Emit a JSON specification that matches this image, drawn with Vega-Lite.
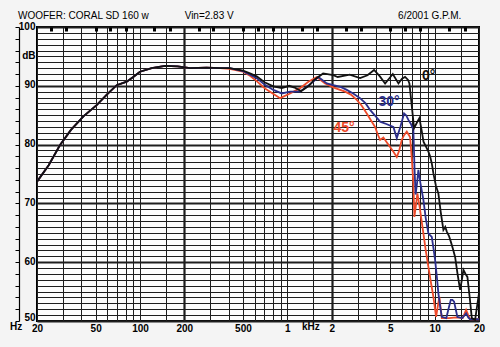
{
  "$schema": "https://vega.github.io/schema/vega-lite/v6.json",
  "width": 442,
  "height": 294,
  "autosize": "none",
  "padding": {"left": 37, "top": 27, "right": 21, "bottom": 26},
  "background": "#f4f4f4",
  "config": {"view": {"stroke": "#000000", "strokeWidth": 2, "fill": "#fdfdfd"}, "font": "Liberation Sans"},
  "datasets": {
    "curves": [
      {"a": "45°", "f": 20, "db": 73.7}, {"a": "45°", "f": 24, "db": 76.5}, {"a": "45°", "f": 28.6, "db": 79.9}, {"a": "45°", "f": 34, "db": 82.5}, {"a": "45°", "f": 41.3, "db": 84.8}, {"a": "45°", "f": 50.8, "db": 86.7}, {"a": "45°", "f": 60, "db": 88.6}, {"a": "45°", "f": 69.5, "db": 90.1}, {"a": "45°", "f": 81.3, "db": 90.7}, {"a": "45°", "f": 90, "db": 91.5}, {"a": "45°", "f": 100, "db": 92.4}, {"a": "45°", "f": 120, "db": 93.0}, {"a": "45°", "f": 148, "db": 93.4}, {"a": "45°", "f": 180, "db": 93.3}, {"a": "45°", "f": 219, "db": 93.0}, {"a": "45°", "f": 283, "db": 93.1}, {"a": "45°", "f": 350, "db": 93.0}, {"a": "45°", "f": 407, "db": 92.9}, {"a": "45°", "f": 500, "db": 92.4}, {"a": "45°", "f": 558, "db": 91.7},
      {"a": "45°", "f": 620, "db": 90.8}, {"a": "45°", "f": 700, "db": 89.6}, {"a": "45°", "f": 763, "db": 89.0}, {"a": "45°", "f": 893, "db": 87.9}, {"a": "45°", "f": 1044, "db": 88.7}, {"a": "45°", "f": 1220, "db": 89.6}, {"a": "45°", "f": 1390, "db": 90.7}, {"a": "45°", "f": 1584, "db": 91.5}, {"a": "45°", "f": 1804, "db": 90.4}, {"a": "45°", "f": 2110, "db": 89.6}, {"a": "45°", "f": 2467, "db": 89.0}, {"a": "45°", "f": 2700, "db": 88.5}, {"a": "45°", "f": 2962, "db": 87.6}, {"a": "45°", "f": 3200, "db": 86.6}, {"a": "45°", "f": 3462, "db": 85.3}, {"a": "45°", "f": 3700, "db": 84.1}, {"a": "45°", "f": 3942, "db": 83.0}, {"a": "45°", "f": 4100, "db": 81.8}, {"a": "45°", "f": 4264, "db": 80.8}, {"a": "45°", "f": 4488, "db": 81.2}, {"a": "45°", "f": 4700, "db": 80.5}, {"a": "45°", "f": 4984, "db": 79.6}, {"a": "45°", "f": 5250, "db": 78.8}, {"a": "45°", "f": 5534, "db": 77.9}, {"a": "45°", "f": 5750, "db": 79.0}, {"a": "45°", "f": 5984, "db": 80.8}, {"a": "45°", "f": 6200, "db": 81.6}, {"a": "45°", "f": 6469, "db": 82.2}, {"a": "45°", "f": 6812, "db": 81.3}, {"a": "45°", "f": 7000, "db": 77.5}, {"a": "45°", "f": 7172, "db": 73.4}, {"a": "45°", "f": 7286, "db": 67.7}, {"a": "45°", "f": 7450, "db": 69.5}, {"a": "45°", "f": 7636, "db": 71.7}, {"a": "45°", "f": 7900, "db": 69.5}, {"a": "45°", "f": 8388, "db": 64.9}, {"a": "45°", "f": 8700, "db": 62.0}, {"a": "45°", "f": 9070, "db": 59.2}, {"a": "45°", "f": 9400, "db": 56.8}, {"a": "45°", "f": 9806, "db": 54.1}, {"a": "45°", "f": 10228, "db": 50.7}, {"a": "45°", "f": 10500, "db": 52.5}, {"a": "45°", "f": 10770, "db": 54.1}, {"a": "45°", "f": 11000, "db": 52.0}, {"a": "45°", "f": 11182, "db": 50.5}, {"a": "45°", "f": 12500, "db": 50.5}, {"a": "45°", "f": 14000, "db": 50.6}, {"a": "45°", "f": 15500, "db": 50.5}, {"a": "45°", "f": 16350, "db": 51.9}, {"a": "45°", "f": 16900, "db": 51.0}, {"a": "45°", "f": 17408, "db": 50.3}, {"a": "45°", "f": 20000, "db": 50.3},

      {"a": "30°", "f": 20, "db": 73.7}, {"a": "30°", "f": 24, "db": 76.5}, {"a": "30°", "f": 28.6, "db": 79.9}, {"a": "30°", "f": 34, "db": 82.5}, {"a": "30°", "f": 41.3, "db": 84.8}, {"a": "30°", "f": 50.8, "db": 86.7}, {"a": "30°", "f": 60, "db": 88.6}, {"a": "30°", "f": 69.5, "db": 90.1}, {"a": "30°", "f": 81.3, "db": 90.7}, {"a": "30°", "f": 90, "db": 91.5}, {"a": "30°", "f": 100, "db": 92.4}, {"a": "30°", "f": 120, "db": 93.0}, {"a": "30°", "f": 148, "db": 93.4}, {"a": "30°", "f": 180, "db": 93.3}, {"a": "30°", "f": 219, "db": 93.0}, {"a": "30°", "f": 283, "db": 93.1}, {"a": "30°", "f": 350, "db": 93.0}, {"a": "30°", "f": 407, "db": 93.0}, {"a": "30°", "f": 500, "db": 92.5}, {"a": "30°", "f": 558, "db": 91.9},
      {"a": "30°", "f": 620, "db": 91.3}, {"a": "30°", "f": 700, "db": 90.2}, {"a": "30°", "f": 804, "db": 89.3}, {"a": "30°", "f": 917, "db": 88.7}, {"a": "30°", "f": 1044, "db": 89.0}, {"a": "30°", "f": 1220, "db": 89.0}, {"a": "30°", "f": 1350, "db": 89.8}, {"a": "30°", "f": 1502, "db": 90.7}, {"a": "30°", "f": 1624, "db": 91.5}, {"a": "30°", "f": 1853, "db": 90.4}, {"a": "30°", "f": 2053, "db": 90.1}, {"a": "30°", "f": 2300, "db": 89.8}, {"a": "30°", "f": 2533, "db": 89.3}, {"a": "30°", "f": 2800, "db": 88.7}, {"a": "30°", "f": 3118, "db": 87.9}, {"a": "30°", "f": 3400, "db": 87.0}, {"a": "30°", "f": 3646, "db": 85.9}, {"a": "30°", "f": 3950, "db": 84.9}, {"a": "30°", "f": 4264, "db": 83.9}, {"a": "30°", "f": 4700, "db": 83.5}, {"a": "30°", "f": 5248, "db": 83.0}, {"a": "30°", "f": 5534, "db": 81.1}, {"a": "30°", "f": 5850, "db": 83.0}, {"a": "30°", "f": 6203, "db": 85.3}, {"a": "30°", "f": 6400, "db": 85.0}, {"a": "30°", "f": 6634, "db": 84.2}, {"a": "30°", "f": 6900, "db": 83.5}, {"a": "30°", "f": 7172, "db": 82.5}, {"a": "30°", "f": 7300, "db": 76.0}, {"a": "30°", "f": 7424, "db": 71.5}, {"a": "30°", "f": 7600, "db": 73.5}, {"a": "30°", "f": 7756, "db": 75.7}, {"a": "30°", "f": 8000, "db": 73.5}, {"a": "30°", "f": 8388, "db": 70.6}, {"a": "30°", "f": 8700, "db": 67.5}, {"a": "30°", "f": 9070, "db": 64.9}, {"a": "30°", "f": 9300, "db": 64.6}, {"a": "30°", "f": 9563, "db": 64.3}, {"a": "30°", "f": 9800, "db": 62.5}, {"a": "30°", "f": 10070, "db": 60.4}, {"a": "30°", "f": 10350, "db": 57.5}, {"a": "30°", "f": 10602, "db": 54.7}, {"a": "30°", "f": 10900, "db": 52.5}, {"a": "30°", "f": 11182, "db": 50.7}, {"a": "30°", "f": 12000, "db": 50.5}, {"a": "30°", "f": 12400, "db": 52.0}, {"a": "30°", "f": 12872, "db": 53.6}, {"a": "30°", "f": 13200, "db": 53.6}, {"a": "30°", "f": 13552, "db": 53.3}, {"a": "30°", "f": 13900, "db": 52.0}, {"a": "30°", "f": 14270, "db": 50.7}, {"a": "30°", "f": 15400, "db": 50.5}, {"a": "30°", "f": 16000, "db": 51.0}, {"a": "30°", "f": 16350, "db": 51.3}, {"a": "30°", "f": 16900, "db": 50.6}, {"a": "30°", "f": 17408, "db": 50.3}, {"a": "30°", "f": 20000, "db": 50.3},

      {"a": "0°", "f": 20, "db": 73.7}, {"a": "0°", "f": 24, "db": 76.5}, {"a": "0°", "f": 28.6, "db": 79.9}, {"a": "0°", "f": 34, "db": 82.5}, {"a": "0°", "f": 41.3, "db": 84.8}, {"a": "0°", "f": 50.8, "db": 86.7}, {"a": "0°", "f": 60, "db": 88.6}, {"a": "0°", "f": 69.5, "db": 90.1}, {"a": "0°", "f": 81.3, "db": 90.7}, {"a": "0°", "f": 90, "db": 91.5}, {"a": "0°", "f": 100, "db": 92.4}, {"a": "0°", "f": 120, "db": 93.0}, {"a": "0°", "f": 148, "db": 93.4}, {"a": "0°", "f": 180, "db": 93.3}, {"a": "0°", "f": 219, "db": 93.0}, {"a": "0°", "f": 283, "db": 93.1}, {"a": "0°", "f": 350, "db": 93.0}, {"a": "0°", "f": 407, "db": 93.0}, {"a": "0°", "f": 500, "db": 92.6}, {"a": "0°", "f": 558, "db": 92.1},
      {"a": "0°", "f": 620, "db": 91.6}, {"a": "0°", "f": 700, "db": 90.6}, {"a": "0°", "f": 804, "db": 89.9}, {"a": "0°", "f": 917, "db": 89.6}, {"a": "0°", "f": 1030, "db": 90.0}, {"a": "0°", "f": 1120, "db": 89.7}, {"a": "0°", "f": 1240, "db": 89.1}, {"a": "0°", "f": 1400, "db": 90.0}, {"a": "0°", "f": 1520, "db": 91.0}, {"a": "0°", "f": 1750, "db": 92.1}, {"a": "0°", "f": 2050, "db": 91.8}, {"a": "0°", "f": 2200, "db": 91.5}, {"a": "0°", "f": 2650, "db": 91.9}, {"a": "0°", "f": 3118, "db": 91.3}, {"a": "0°", "f": 3500, "db": 91.8}, {"a": "0°", "f": 3880, "db": 92.7}, {"a": "0°", "f": 4250, "db": 91.6}, {"a": "0°", "f": 4610, "db": 90.4}, {"a": "0°", "f": 4900, "db": 91.2}, {"a": "0°", "f": 5200, "db": 92.0}, {"a": "0°", "f": 5680, "db": 90.4}, {"a": "0°", "f": 6000, "db": 91.2}, {"a": "0°", "f": 6300, "db": 91.5}, {"a": "0°", "f": 6600, "db": 91.0}, {"a": "0°", "f": 6740, "db": 90.4}, {"a": "0°", "f": 7000, "db": 86.5}, {"a": "0°", "f": 7250, "db": 82.8}, {"a": "0°", "f": 7600, "db": 83.8}, {"a": "0°", "f": 7880, "db": 84.5}, {"a": "0°", "f": 8150, "db": 82.5}, {"a": "0°", "f": 8400, "db": 80.5}, {"a": "0°", "f": 8800, "db": 79.5}, {"a": "0°", "f": 9070, "db": 78.8}, {"a": "0°", "f": 9313, "db": 78.0}, {"a": "0°", "f": 9563, "db": 76.8}, {"a": "0°", "f": 9806, "db": 75.1}, {"a": "0°", "f": 10200, "db": 73.0}, {"a": "0°", "f": 10600, "db": 71.7}, {"a": "0°", "f": 11000, "db": 68.5}, {"a": "0°", "f": 11466, "db": 65.5}, {"a": "0°", "f": 11800, "db": 66.0}, {"a": "0°", "f": 12092, "db": 65.2}, {"a": "0°", "f": 12500, "db": 64.5}, {"a": "0°", "f": 12872, "db": 63.5}, {"a": "0°", "f": 13300, "db": 62.3}, {"a": "0°", "f": 13766, "db": 60.9}, {"a": "0°", "f": 14300, "db": 58.0}, {"a": "0°", "f": 14886, "db": 55.3}, {"a": "0°", "f": 15300, "db": 57.0}, {"a": "0°", "f": 15674, "db": 58.7}, {"a": "0°", "f": 16200, "db": 58.0}, {"a": "0°", "f": 16686, "db": 57.5}, {"a": "0°", "f": 17300, "db": 54.0}, {"a": "0°", "f": 17876, "db": 50.5}, {"a": "0°", "f": 18816, "db": 50.2}, {"a": "0°", "f": 19400, "db": 52.5}, {"a": "0°", "f": 20000, "db": 54.7}
    ],
    "axisnotes": [
      {"label": "Hz", "f": 13.1, "db": 49.0},
      {"label": "kHz", "f": 1259, "db": 49.0}
    ],
    "titles": [
      {"label": "WOOFER: CORAL SD 160 w", "f": 14.86, "db": 101.87},
      {"label": "Vin=2.83 V", "f": 201, "db": 101.87},
      {"label": "6/2001  G.P.M.", "f": 5650, "db": 101.87}
    ],
    "curvelabels": [
      {"a": "0°", "f": 9100, "db": 91.7},
      {"a": "30°", "f": 4906, "db": 87.2},
      {"a": "45°", "f": 2428, "db": 82.9}
    ]
  },
  "resolve": {"axis": {"x": "independent", "y": "independent"}},
  "layer": [
    {
      "data": {"name": "curves"},
      "mark": {"type": "line", "strokeWidth": 1.8, "clip": true},
      "encoding": {
        "x": {
          "field": "f", "type": "quantitative",
          "scale": {"type": "log", "domain": [20, 20000], "nice": false},
          "axis": {
            "orient": "bottom",
            "values": [20, 30, 40, 50, 60, 70, 80, 90, 100, 150, 200, 300, 400, 500, 600, 700, 800, 900, 1000, 1500, 2000, 3000, 4000, 5000, 6000, 7000, 8000, 9000, 10000, 15000, 20000],
            "labelExpr": "indexof([20,50,100,200,500], datum.value) >= 0 ? datum.value + '' : (indexof([1000,2000,5000,10000,20000], datum.value) >= 0 ? (datum.value/1000) + '' : '')",
            "labelFlush": false, "labelOverlap": false, "labelPadding": 2,
            "labelFontSize": 10, "labelFontWeight": "bold", "labelColor": "#000000", "labelFont": "Liberation Sans",
            "ticks": false, "domain": false, "title": null,
            "grid": true, "gridColor": "#1e1e1e",
            "gridWidth": {"condition": {"test": "datum.value == 200 || datum.value == 2000", "value": 2.2}, "value": 1}
          }
        },
        "y": {
          "field": "db", "type": "quantitative",
          "scale": {"domain": [50, 100], "nice": false, "zero": false},
          "axis": {
            "orient": "left",
            "values": [50, 51, 52, 53, 54, 55, 56, 57, 58, 59, 60, 61, 62, 63, 64, 65, 66, 67, 68, 69, 70, 71, 72, 73, 74, 75, 76, 77, 78, 79, 80, 81, 82, 83, 84, 85, 86, 87, 88, 89, 90, 91, 92, 93, 94, 95, 96, 97, 98, 99, 100],
            "labelExpr": "datum.value % 10 == 0 ? datum.value + '' : (datum.value == 95 ? 'dB' : '')",
            "labelPadding": 2, "labelFontSize": 10, "labelFontWeight": "bold", "labelColor": "#000000", "labelFont": "Liberation Sans",
            "labelOverlap": false,
            "labelBaseline": {"condition": {"test": "datum.value == 50", "value": "alphabetic"}, "value": "middle"},
            "labelOffset": -1,
            "ticks": false, "domain": false, "title": null,
            "grid": true, "gridColor": "#1e1e1e",
            "gridWidth": {"condition": {"test": "datum.value % 10 == 0", "value": 2}, "value": 1}
          }
        },
        "color": {
          "field": "a", "type": "nominal",
          "scale": {"domain": ["0°", "30°", "45°"], "range": ["#111111", "#2b2e8c", "#ee4a2a"]},
          "legend": null
        }
      }
    },
    {
      "data": {"name": "axisnotes"},
      "mark": {"type": "text", "align": "left", "baseline": "middle", "fontSize": 10, "fontWeight": "bold", "font": "Liberation Sans", "color": "#000000"},
      "encoding": {
        "x": {
          "field": "f", "type": "quantitative",
          "scale": {"type": "log", "domain": [20, 20000], "nice": false},
          "axis": {
            "orient": "top",
            "values": [25, 31.5, 50, 63, 80, 125, 160, 250, 315, 500, 630, 800, 1250, 1600, 2500, 3150, 5000, 6300, 8000, 12500, 16000],
            "offset": -4, "tickSize": 4, "tickWidth": 3, "tickColor": "#000000",
            "labels": false, "domain": false, "grid": false, "title": null
          }
        },
        "y": {
          "field": "db", "type": "quantitative",
          "scale": {"domain": [50, 100], "nice": false, "zero": false},
          "axis": {
            "orient": "left", "offset": 18,
            "values": [50, 52, 54, 56, 58, 60, 62, 64, 66, 68, 70, 72, 74, 76, 78, 80, 82, 84, 86, 88, 90, 92, 94, 96, 98, 100],
            "tickSize": 4, "tickColor": "#000000", "tickWidth": 1,
            "domain": true, "domainColor": "#000000", "domainWidth": 1.2,
            "labels": false, "grid": false, "title": null
          }
        },
        "text": {"field": "label"}
      }
    },
    {
      "data": {"name": "titles"},
      "mark": {"type": "text", "align": "left", "baseline": "middle", "fontSize": 10, "font": "Liberation Sans", "color": "#000000"},
      "encoding": {
        "x": {"field": "f", "type": "quantitative", "scale": {"type": "log", "domain": [20, 20000], "nice": false}, "axis": null},
        "y": {"field": "db", "type": "quantitative", "scale": {"domain": [50, 100], "nice": false, "zero": false}, "axis": null},
        "text": {"field": "label"}
      }
    },
    {
      "data": {"name": "curvelabels"},
      "mark": {"type": "text", "align": "center", "baseline": "middle", "fontSize": 14, "fontWeight": "bold", "font": "Liberation Sans"},
      "encoding": {
        "x": {"field": "f", "type": "quantitative", "scale": {"type": "log", "domain": [20, 20000], "nice": false}, "axis": null},
        "y": {"field": "db", "type": "quantitative", "scale": {"domain": [50, 100], "nice": false, "zero": false}, "axis": null},
        "text": {"field": "a"},
        "color": {"field": "a", "type": "nominal", "scale": {"domain": ["0°", "30°", "45°"], "range": ["#111111", "#2b2e8c", "#ee4a2a"]}, "legend": null}
      }
    }
  ]
}
